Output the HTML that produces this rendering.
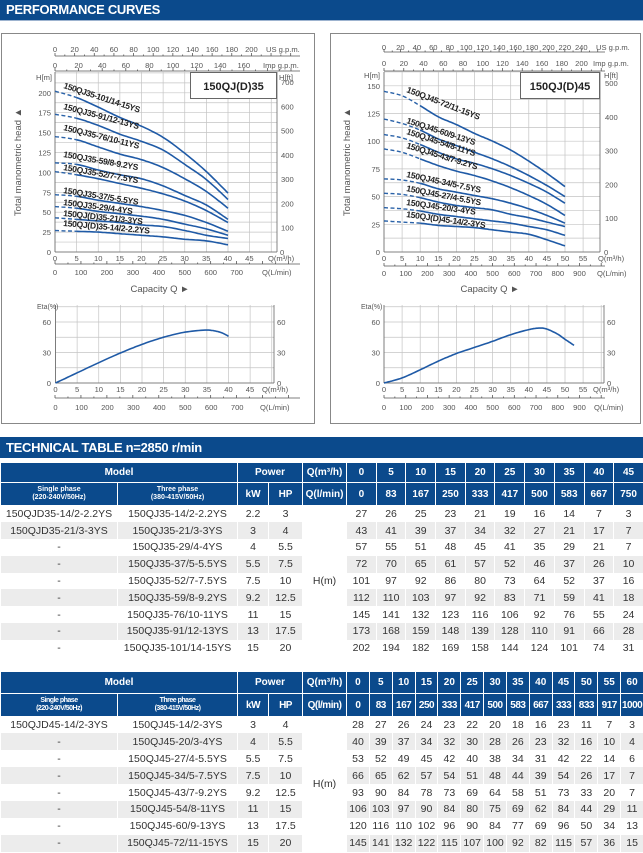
<!DOCTYPE html>
<html><head><meta charset="utf-8">
<style>
*{margin:0;padding:0;box-sizing:border-box}
body{width:643px;height:853px;background:#fff;position:relative;overflow:hidden;font-family:"Liberation Sans",sans-serif;color:#333}
.bar{position:absolute;left:0;width:643px;background:#0b4a8c;color:#fff;font-weight:bold;font-size:13px;padding-left:6px;letter-spacing:-0.3px}
svg{position:absolute;left:0;top:0}
svg text{font-family:"Liberation Sans",sans-serif}
table{position:absolute;left:0;width:643px;border-collapse:collapse;table-layout:fixed}
td{padding:0;text-align:center;font-size:10.5px;white-space:nowrap;overflow:hidden;border-left:1px solid #fff;border-right:1px solid #fff}
tr.h td{background:#0b4a8c;color:#fff;font-weight:bold;border:1px solid #fff;font-size:10px}
tr.h td.s{font-size:7px;line-height:8px}
tr.g td{background:#ececec}
td.hm{background:#fff !important}
</style></head><body>
<div class="bar" style="top:0;height:20px;line-height:20px">PERFORMANCE CURVES</div>
<div style="position:absolute;top:20px;left:0;width:643px;height:1px;background:#9db3cf"></div>
<div class="bar" style="top:437px;height:21px;line-height:21px">TECHNICAL TABLE n=2850 r/min</div>

<svg width="643" height="437" viewBox="0 0 643 437" id="sv">
<rect x="1.5" y="33.5" width="313" height="390" fill="none" stroke="#888"/>
<rect x="330.5" y="33.5" width="310" height="390" fill="none" stroke="#888"/>
<g id="gr"></g>
<g font-size="7.6" fill="#555">
<!-- LEFT H-Q -->
<text x="55" y="52" text-anchor="middle">0</text><text x="74.6" y="52" text-anchor="middle">20</text><text x="94.3" y="52" text-anchor="middle">40</text><text x="113.9" y="52" text-anchor="middle">60</text><text x="133.6" y="52" text-anchor="middle">80</text><text x="153.2" y="52" text-anchor="middle">100</text><text x="172.9" y="52" text-anchor="middle">120</text><text x="192.5" y="52" text-anchor="middle">140</text><text x="212.2" y="52" text-anchor="middle">160</text><text x="231.8" y="52" text-anchor="middle">180</text><text x="251.4" y="52" text-anchor="middle">200</text><text x="266" y="52">US g.p.m.</text>
<text x="55" y="68" text-anchor="middle">0</text><text x="78.6" y="68" text-anchor="middle">20</text><text x="102.2" y="68" text-anchor="middle">40</text><text x="125.8" y="68" text-anchor="middle">60</text><text x="149.4" y="68" text-anchor="middle">80</text><text x="173" y="68" text-anchor="middle">100</text><text x="196.6" y="68" text-anchor="middle">120</text><text x="220.2" y="68" text-anchor="middle">140</text><text x="243.8" y="68" text-anchor="middle">160</text><text x="263" y="68">Imp g.p.m.</text>
<text x="36" y="80">H[m]</text><text x="279" y="80">H[ft]</text>
<text x="51" y="255" text-anchor="end">0</text><text x="51" y="235" text-anchor="end">25</text><text x="51" y="215.2" text-anchor="end">50</text><text x="51" y="195.3" text-anchor="end">75</text><text x="51" y="175.4" text-anchor="end">100</text><text x="51" y="155.5" text-anchor="end">125</text><text x="51" y="135.6" text-anchor="end">150</text><text x="51" y="115.7" text-anchor="end">175</text><text x="51" y="95.8" text-anchor="end">200</text>
<text x="280" y="255">0</text><text x="281" y="230.7">100</text><text x="281" y="206.5">200</text><text x="281" y="182.2">300</text><text x="281" y="158">400</text><text x="281" y="133.7">500</text><text x="281" y="109.4">600</text><text x="281" y="85.2">700</text>
<text x="55" y="261" text-anchor="middle">0</text><text x="76.6" y="261" text-anchor="middle">5</text><text x="98.2" y="261" text-anchor="middle">10</text><text x="119.8" y="261" text-anchor="middle">15</text><text x="141.4" y="261" text-anchor="middle">20</text><text x="163" y="261" text-anchor="middle">25</text><text x="184.6" y="261" text-anchor="middle">30</text><text x="206.2" y="261" text-anchor="middle">35</text><text x="227.8" y="261" text-anchor="middle">40</text><text x="249.4" y="261" text-anchor="middle">45</text><text x="268" y="261">Q(m³/h)</text>
<text x="55" y="275" text-anchor="middle">0</text><text x="81" y="275" text-anchor="middle">100</text><text x="106.9" y="275" text-anchor="middle">200</text><text x="132.9" y="275" text-anchor="middle">300</text><text x="158.8" y="275" text-anchor="middle">400</text><text x="184.8" y="275" text-anchor="middle">500</text><text x="210.7" y="275" text-anchor="middle">600</text><text x="236.7" y="275" text-anchor="middle">700</text><text x="262" y="275">Q(L/min)</text>
<text x="160" y="292" text-anchor="middle" font-size="9.5">Capacity Q ►</text>
<text transform="translate(21,162) rotate(-90)" text-anchor="middle" font-size="9.5">Total manometric head ▲</text>
<!-- RIGHT H-Q -->
<text x="384" y="50" text-anchor="middle">0</text><text x="400.4" y="50" text-anchor="middle">20</text><text x="416.9" y="50" text-anchor="middle">40</text><text x="433.3" y="50" text-anchor="middle">60</text><text x="449.8" y="50" text-anchor="middle">80</text><text x="466.2" y="50" text-anchor="middle">100</text><text x="482.6" y="50" text-anchor="middle">120</text><text x="499.1" y="50" text-anchor="middle">140</text><text x="515.5" y="50" text-anchor="middle">160</text><text x="532" y="50" text-anchor="middle">180</text><text x="548.4" y="50" text-anchor="middle">200</text><text x="564.8" y="50" text-anchor="middle">220</text><text x="581.3" y="50" text-anchor="middle">240</text><text x="596" y="50">US g.p.m.</text>
<text x="384" y="66" text-anchor="middle">0</text><text x="403.8" y="66" text-anchor="middle">20</text><text x="423.5" y="66" text-anchor="middle">40</text><text x="443.3" y="66" text-anchor="middle">60</text><text x="463" y="66" text-anchor="middle">80</text><text x="482.8" y="66" text-anchor="middle">100</text><text x="502.5" y="66" text-anchor="middle">120</text><text x="522.3" y="66" text-anchor="middle">140</text><text x="542" y="66" text-anchor="middle">160</text><text x="561.8" y="66" text-anchor="middle">180</text><text x="581.5" y="66" text-anchor="middle">200</text><text x="593" y="66">Imp g.p.m.</text>
<text x="364" y="78">H[m]</text><text x="604" y="78">H[ft]</text>
<text x="380" y="255" text-anchor="end">0</text><text x="380" y="227.3" text-anchor="end">25</text><text x="380" y="199.6" text-anchor="end">50</text><text x="380" y="171.9" text-anchor="end">75</text><text x="380" y="144.2" text-anchor="end">100</text><text x="380" y="116.5" text-anchor="end">125</text><text x="380" y="88.8" text-anchor="end">150</text>
<text x="604" y="255">0</text><text x="605" y="221.2">100</text><text x="605" y="187.5">200</text><text x="605" y="153.7">300</text><text x="605" y="119.9">400</text><text x="605" y="86.1">500</text>
<text x="384" y="261" text-anchor="middle">0</text><text x="402.1" y="261" text-anchor="middle">5</text><text x="420.2" y="261" text-anchor="middle">10</text><text x="438.3" y="261" text-anchor="middle">15</text><text x="456.4" y="261" text-anchor="middle">20</text><text x="474.5" y="261" text-anchor="middle">25</text><text x="492.6" y="261" text-anchor="middle">30</text><text x="510.7" y="261" text-anchor="middle">35</text><text x="528.8" y="261" text-anchor="middle">40</text><text x="546.9" y="261" text-anchor="middle">45</text><text x="565" y="261" text-anchor="middle">50</text><text x="583.1" y="261" text-anchor="middle">55</text><text x="598" y="261">Q(m³/h)</text>
<text x="384" y="276" text-anchor="middle">0</text><text x="405.7" y="276" text-anchor="middle">100</text><text x="427.4" y="276" text-anchor="middle">200</text><text x="449.2" y="276" text-anchor="middle">300</text><text x="470.9" y="276" text-anchor="middle">400</text><text x="492.6" y="276" text-anchor="middle">500</text><text x="514.3" y="276" text-anchor="middle">600</text><text x="536" y="276" text-anchor="middle">700</text><text x="557.8" y="276" text-anchor="middle">800</text><text x="579.5" y="276" text-anchor="middle">900</text><text x="597" y="276">Q(L/min)</text>
<text x="490" y="292" text-anchor="middle" font-size="9.5">Capacity Q ►</text>
<text transform="translate(350,162) rotate(-90)" text-anchor="middle" font-size="9.5">Total manometric head ▲</text>
<!-- ETA LEFT -->
<text x="37" y="309" font-size="7">Eta(%)</text>
<text x="51" y="386" text-anchor="end">0</text><text x="51" y="355.5" text-anchor="end">30</text><text x="51" y="325" text-anchor="end">60</text>
<text x="277" y="386">0</text><text x="277" y="355.5">30</text><text x="277" y="325">60</text>
<text x="55.5" y="392" text-anchor="middle">0</text><text x="77.1" y="392" text-anchor="middle">5</text><text x="98.8" y="392" text-anchor="middle">10</text><text x="120.4" y="392" text-anchor="middle">15</text><text x="142" y="392" text-anchor="middle">20</text><text x="163.6" y="392" text-anchor="middle">25</text><text x="185.3" y="392" text-anchor="middle">30</text><text x="206.9" y="392" text-anchor="middle">35</text><text x="228.5" y="392" text-anchor="middle">40</text><text x="250" y="392" text-anchor="middle">45</text><text x="262" y="392">Q(m³/h)</text>
<text x="55.5" y="410" text-anchor="middle">0</text><text x="81.5" y="410" text-anchor="middle">100</text><text x="107.4" y="410" text-anchor="middle">200</text><text x="133.4" y="410" text-anchor="middle">300</text><text x="159.3" y="410" text-anchor="middle">400</text><text x="185.3" y="410" text-anchor="middle">500</text><text x="211.2" y="410" text-anchor="middle">600</text><text x="237.2" y="410" text-anchor="middle">700</text><text x="260" y="410">Q(L/min)</text>
<!-- ETA RIGHT -->
<text x="361" y="309" font-size="7">Eta(%)</text>
<text x="380" y="386" text-anchor="end">0</text><text x="380" y="355.5" text-anchor="end">30</text><text x="380" y="325" text-anchor="end">60</text>
<text x="607" y="386">0</text><text x="607" y="355.5">30</text><text x="607" y="325">60</text>
<text x="384" y="392" text-anchor="middle">0</text><text x="402.1" y="392" text-anchor="middle">5</text><text x="420.2" y="392" text-anchor="middle">10</text><text x="438.3" y="392" text-anchor="middle">15</text><text x="456.4" y="392" text-anchor="middle">20</text><text x="474.5" y="392" text-anchor="middle">25</text><text x="492.6" y="392" text-anchor="middle">30</text><text x="510.7" y="392" text-anchor="middle">35</text><text x="528.8" y="392" text-anchor="middle">40</text><text x="546.9" y="392" text-anchor="middle">45</text><text x="565" y="392" text-anchor="middle">50</text><text x="583.1" y="392" text-anchor="middle">55</text><text x="593" y="392">Q(m³/h)</text>
<text x="384" y="410" text-anchor="middle">0</text><text x="405.7" y="410" text-anchor="middle">100</text><text x="427.4" y="410" text-anchor="middle">200</text><text x="449.2" y="410" text-anchor="middle">300</text><text x="470.9" y="410" text-anchor="middle">400</text><text x="492.6" y="410" text-anchor="middle">500</text><text x="514.3" y="410" text-anchor="middle">600</text><text x="536" y="410" text-anchor="middle">700</text><text x="557.8" y="410" text-anchor="middle">800</text><text x="579.5" y="410" text-anchor="middle">900</text><text x="594" y="410">Q(L/min)</text>
</g>
<g id="cv"></g>
<rect x="190.5" y="72.5" width="86" height="26" fill="#fff" stroke="#666"/>
<text x="233.5" y="90" text-anchor="middle" font-size="11" font-weight="bold" fill="#222">150QJ(D)35</text>
<rect x="520.5" y="72.5" width="79" height="26" fill="#fff" stroke="#666"/>
<text x="560" y="90" text-anchor="middle" font-size="11" font-weight="bold" fill="#222">150QJ(D)45</text>
<g font-size="8.5" font-weight="bold" fill="#222">
<text transform="translate(63,88) rotate(18)" textLength="80">150QJ35-101/14-15YS</text>
<text transform="translate(63,109) rotate(15)" textLength="78">150QJ35-91/12-13YS</text>
<text transform="translate(63,130) rotate(14)" textLength="78">150QJ35-76/10-11YS</text>
<text transform="translate(63,157) rotate(10)" textLength="76">150QJ35-59/8-9.2YS</text>
<text transform="translate(63,170) rotate(10)" textLength="76">150QJ35-52/7-7.5YS</text>
<text transform="translate(63,193) rotate(9)" textLength="76">150QJ35-37/5-5.5YS</text>
<text transform="translate(63,205) rotate(7.5)" textLength="70">150QJ35-29/4-4YS</text>
<text transform="translate(63,216) rotate(6)" textLength="80">150QJ(D)35-21/3-3YS</text>
<text transform="translate(63,226) rotate(5)" textLength="87">150QJ(D)35-14/2-2.2YS</text>
<text transform="translate(406,92) rotate(21)" textLength="78">150QJ45-72/11-15YS</text>
<text transform="translate(406,123) rotate(18)" textLength="72">150QJ45-60/9-13YS</text>
<text transform="translate(406,134) rotate(18)" textLength="72">150QJ45-54/8-11YS</text>
<text transform="translate(406,148) rotate(17)" textLength="74">150QJ45-43/7-9.2YS</text>
<text transform="translate(406,177) rotate(12)" textLength="76">150QJ45-34/5-7.5YS</text>
<text transform="translate(406,191) rotate(11)" textLength="76">150QJ45-27/4-5.5YS</text>
<text transform="translate(406,205) rotate(8)" textLength="70">150QJ45-20/3-4YS</text>
<text transform="translate(406,217) rotate(8)" textLength="80">150QJ(D)45-14/2-3YS</text>
</g>
</svg>

<table style="top:462px">
<colgroup><col style="width:117px"><col style="width:120px"><col style="width:31px"><col style="width:34px"><col style="width:44px"><col span="10" style="width:29.7px"></colgroup>
<tr class="h" style="height:20px"><td colspan="2">Model</td><td colspan="2">Power</td><td>Q(m³/h)</td><td>0</td><td>5</td><td>10</td><td>15</td><td>20</td><td>25</td><td>30</td><td>35</td><td>40</td><td>45</td></tr>
<tr class="h" style="height:23px"><td class="s">Single phase<br>(220-240V/50Hz)</td><td class="s">Three phase<br>(380-415V/50Hz)</td><td>kW</td><td>HP</td><td>Q(l/min)</td><td>0</td><td>83</td><td>167</td><td>250</td><td>333</td><td>417</td><td>500</td><td>583</td><td>667</td><td>750</td></tr>
<tr style="height:16.8px"><td>150QJD35-14/2-2.2YS</td><td>150QJ35-14/2-2.2YS</td><td>2.2</td><td>3</td><td rowspan="9" class="hm">H(m)</td><td>27</td><td>26</td><td>25</td><td>23</td><td>21</td><td>19</td><td>16</td><td>14</td><td>7</td><td>3</td></tr>
<tr class="g" style="height:16.8px"><td>150QJD35-21/3-3YS</td><td>150QJ35-21/3-3YS</td><td>3</td><td>4</td><td>43</td><td>41</td><td>39</td><td>37</td><td>34</td><td>32</td><td>27</td><td>21</td><td>17</td><td>7</td></tr>
<tr style="height:16.8px"><td>-</td><td>150QJ35-29/4-4YS</td><td>4</td><td>5.5</td><td>57</td><td>55</td><td>51</td><td>48</td><td>45</td><td>41</td><td>35</td><td>29</td><td>21</td><td>7</td></tr>
<tr class="g" style="height:16.8px"><td>-</td><td>150QJ35-37/5-5.5YS</td><td>5.5</td><td>7.5</td><td>72</td><td>70</td><td>65</td><td>61</td><td>57</td><td>52</td><td>46</td><td>37</td><td>26</td><td>10</td></tr>
<tr style="height:16.8px"><td>-</td><td>150QJ35-52/7-7.5YS</td><td>7.5</td><td>10</td><td>101</td><td>97</td><td>92</td><td>86</td><td>80</td><td>73</td><td>64</td><td>52</td><td>37</td><td>16</td></tr>
<tr class="g" style="height:16.8px"><td>-</td><td>150QJ35-59/8-9.2YS</td><td>9.2</td><td>12.5</td><td>112</td><td>110</td><td>103</td><td>97</td><td>92</td><td>83</td><td>71</td><td>59</td><td>41</td><td>18</td></tr>
<tr style="height:16.8px"><td>-</td><td>150QJ35-76/10-11YS</td><td>11</td><td>15</td><td>145</td><td>141</td><td>132</td><td>123</td><td>116</td><td>106</td><td>92</td><td>76</td><td>55</td><td>24</td></tr>
<tr class="g" style="height:16.8px"><td>-</td><td>150QJ35-91/12-13YS</td><td>13</td><td>17.5</td><td>173</td><td>168</td><td>159</td><td>148</td><td>139</td><td>128</td><td>110</td><td>91</td><td>66</td><td>28</td></tr>
<tr style="height:16.8px"><td>-</td><td>150QJ35-101/14-15YS</td><td>15</td><td>20</td><td>202</td><td>194</td><td>182</td><td>169</td><td>158</td><td>144</td><td>124</td><td>101</td><td>74</td><td>31</td></tr>
</table>

<table style="top:671px">
<colgroup><col style="width:117px"><col style="width:120px"><col style="width:31px"><col style="width:34px"><col style="width:44px"><col span="13" style="width:22.85px"></colgroup>
<tr class="h" style="height:22px"><td colspan="2">Model</td><td colspan="2">Power</td><td>Q(m³/h)</td><td>0</td><td>5</td><td>10</td><td>15</td><td>20</td><td>25</td><td>30</td><td>35</td><td>40</td><td>45</td><td>50</td><td>55</td><td>60</td></tr>
<tr class="h" style="height:23px;letter-spacing:-0.5px"><td class="s">Single phase<br>(220-240V/50Hz)</td><td class="s">Three phase<br>(380-415V/50Hz)</td><td>kW</td><td>HP</td><td>Q(l/min)</td><td>0</td><td>83</td><td>167</td><td>250</td><td>333</td><td>417</td><td>500</td><td>583</td><td>667</td><td>333</td><td>833</td><td>917</td><td>1000</td></tr>
<tr style="height:16.9px"><td>150QJD45-14/2-3YS</td><td>150QJ45-14/2-3YS</td><td>3</td><td>4</td><td rowspan="8" class="hm">H(m)</td><td>28</td><td>27</td><td>26</td><td>24</td><td>23</td><td>22</td><td>20</td><td>18</td><td>16</td><td>23</td><td>11</td><td>7</td><td>3</td></tr>
<tr class="g" style="height:16.9px"><td>-</td><td>150QJ45-20/3-4YS</td><td>4</td><td>5.5</td><td>40</td><td>39</td><td>37</td><td>34</td><td>32</td><td>30</td><td>28</td><td>26</td><td>23</td><td>32</td><td>16</td><td>10</td><td>4</td></tr>
<tr style="height:16.9px"><td>-</td><td>150QJ45-27/4-5.5YS</td><td>5.5</td><td>7.5</td><td>53</td><td>52</td><td>49</td><td>45</td><td>42</td><td>40</td><td>38</td><td>34</td><td>31</td><td>42</td><td>22</td><td>14</td><td>6</td></tr>
<tr class="g" style="height:16.9px"><td>-</td><td>150QJ45-34/5-7.5YS</td><td>7.5</td><td>10</td><td>66</td><td>65</td><td>62</td><td>57</td><td>54</td><td>51</td><td>48</td><td>44</td><td>39</td><td>54</td><td>26</td><td>17</td><td>7</td></tr>
<tr style="height:16.9px"><td>-</td><td>150QJ45-43/7-9.2YS</td><td>9.2</td><td>12.5</td><td>93</td><td>90</td><td>84</td><td>78</td><td>73</td><td>69</td><td>64</td><td>58</td><td>51</td><td>73</td><td>33</td><td>20</td><td>7</td></tr>
<tr class="g" style="height:16.9px"><td>-</td><td>150QJ45-54/8-11YS</td><td>11</td><td>15</td><td>106</td><td>103</td><td>97</td><td>90</td><td>84</td><td>80</td><td>75</td><td>69</td><td>62</td><td>84</td><td>44</td><td>29</td><td>11</td></tr>
<tr style="height:16.9px"><td>-</td><td>150QJ45-60/9-13YS</td><td>13</td><td>17.5</td><td>120</td><td>116</td><td>110</td><td>102</td><td>96</td><td>90</td><td>84</td><td>77</td><td>69</td><td>96</td><td>50</td><td>34</td><td>13</td></tr>
<tr class="g" style="height:16.9px"><td>-</td><td>150QJ45-72/11-15YS</td><td>15</td><td>20</td><td>145</td><td>141</td><td>132</td><td>122</td><td>115</td><td>107</td><td>100</td><td>92</td><td>82</td><td>115</td><td>57</td><td>36</td><td>15</td></tr>
</table>

<script>
var NS="http://www.w3.org/2000/svg",gr=document.getElementById('gr'),cv=document.getElementById('cv');
function el(p,t,a){var e=document.createElementNS(NS,t);for(var k in a)e.setAttribute(k,a[k]);p.appendChild(e);return e;}
function L(p,x1,y1,x2,y2,c,w){el(p,'line',{x1:x1,y1:y1,x2:x2,y2:y2,stroke:c,'stroke-width':w});}
function grid(x0,x1,y0,y1,xs,ys){
  for(var x=x0;x<=x1+0.1;x+=xs)L(gr,x,y0,x,y1,'#c4c4c4',0.7);
  for(var y=y1;y>=y0-0.1;y-=ys)L(gr,x0,y,x1,y,'#c4c4c4',0.7);
  L(gr,x0,y0,x0,y1,'#666',0.8);L(gr,x1,y0,x1,y1,'#666',0.8);L(gr,x0,y1,x1,y1,'#666',0.8);
}
function axisline(x0,x1,y,step,n){L(gr,x0,y,x1,y,'#555',0.8);for(var i=0;i<=n;i++){var x=x0+i*step;if(x>x1)break;L(gr,x,y-(i%2?1.5:3),x,y,'#555',0.8);}}
grid(55,277,72,252,21.625,9.95);
grid(384,600,72,252,18.1,13.85);
grid(55.5,274,305,383,21.625,15.25);
grid(384,604,305,383,18.1,15.25);
axisline(55,300,56,9.82,30);axisline(55,300,71,11.8,25);axisline(55,300,264,12.97,20);
axisline(384,605,52,8.22,30);axisline(384,605,71,9.875,25);axisline(384,605,266,10.86,22);
axisline(55,300,398,12.97,20);axisline(384,605,398,10.86,22);
function spline(pts){var out=[];for(var i=0;i<pts.length-1;i++){var p0=pts[Math.max(i-1,0)],p1=pts[i],p2=pts[i+1],p3=pts[Math.min(i+2,pts.length-1)];for(var t=0;t<1;t+=0.1){var t2=t*t,t3=t2*t;out.push([0.5*(2*p1[0]+(-p0[0]+p2[0])*t+(2*p0[0]-5*p1[0]+4*p2[0]-p3[0])*t2+(-p0[0]+3*p1[0]-3*p2[0]+p3[0])*t3),0.5*(2*p1[1]+(-p0[1]+p2[1])*t+(2*p0[1]-5*p1[1]+4*p2[1]-p3[1])*t2+(-p0[1]+3*p1[1]-3*p2[1]+p3[1])*t3)]);}}out.push(pts[pts.length-1]);return out;}
function draw(qs,hs,fx,fy,qd){var pts=qs.map(function(q,i){return [q,hs[i]];});var s=spline(pts);
 var d1=[],d2=[];s.forEach(function(p){var P=fx(p[0]).toFixed(1)+','+fy(p[1]).toFixed(1);if(p[0]<=qd+0.01)d1.push(P);if(p[0]>=qd-0.01)d2.push(P);});
 if(qd>0&&d1.length)el(cv,'polyline',{points:d1.join(' '),fill:'none',stroke:'#2a62a8','stroke-width':1.4,'stroke-dasharray':'4,2.5'});
 el(cv,'polyline',{points:d2.join(' '),fill:'none',stroke:'#1f5aa6','stroke-width':1.6});}
var qL=[0,5,10,15,20,25,30,35,40];
var dL=[[27,26,25,23,21,19,16,14,9],[43,41,39,37,34,32,27,21,17],[57,55,51,48,45,41,35,29,21],[72,70,65,61,57,52,46,37,26],[101,97,92,86,80,73,64,52,37],[112,110,103,97,92,83,71,59,41],[145,141,132,123,116,106,92,76,55],[173,168,159,148,139,128,110,91,66],[202,194,182,169,158,144,124,101,74]];
dL.forEach(function(h){draw(qL,h,function(q){return 55+q*4.325},function(v){return 252-v*0.796},5);});
var qR=[0,5,10,15,20,25,30,35,40,45,50];
var dR=[[145,141,132,122,115,107,100,92,82,71,59],[120,116,110,102,96,90,84,77,69,60,50],[106,103,97,90,84,80,75,69,62,54,44],[93,90,84,78,73,69,64,58,51,43,33],[66,65,62,57,54,51,48,44,39,33,26],[53,52,49,45,42,40,38,34,31,27,23],[40,39,37,34,32,30,28,26,23,20,15],[28,27,26,24,23,22,20,18,16,11,5.5]];
dR.forEach(function(h){draw(qR,h,function(q){return 384+q*3.62},function(v){return 252-v*1.108},10);});
draw([0,5,10,15,20,25,30,35,38,40],[0,10,20,29.5,38,45,50,52,50,46],function(q){return 55.5+q*4.325},function(v){return 383-v*1.017},0);
draw([0,5,10,15,20,25,30,35,40,43,45,48,50,52.5],[0,5,13,21.5,29,35,41,47.5,52.5,54,53,48,43,37],function(q){return 384+q*3.62},function(v){return 383-v*1.017},0);
</script>
</body></html>
